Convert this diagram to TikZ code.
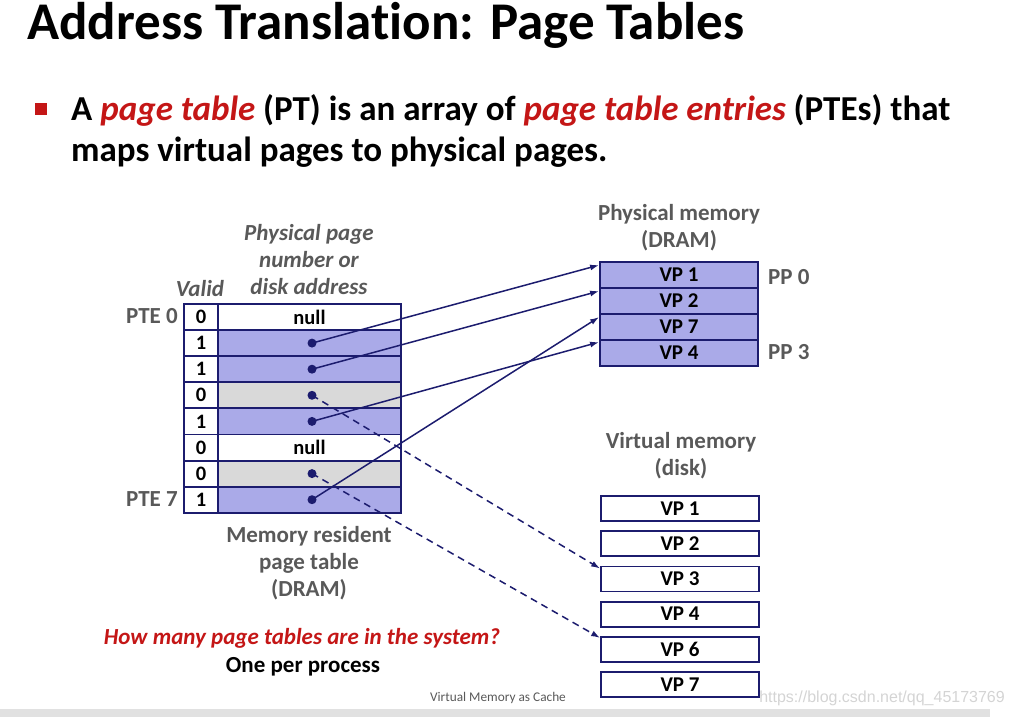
\documentclass[tikz,border=0pt]{standalone}
\usepackage{fontspec}
\setmainfont[Ligatures=NoCommon]{Carlito}
\newfontfamily\wmfont{Liberation Sans}
\usetikzlibrary{arrows.meta,positioning,calc}
\definecolor{ptnavy} {RGB}{ 28, 28,110}
\definecolor{ptblue} {RGB}{170,170,232}
\definecolor{ptgray} {RGB}{217,217,217}
\definecolor{ptlabel}{RGB}{ 89, 89, 89}
\definecolor{ptred}  {RGB}{196, 22, 22}
\definecolor{ptbar}  {RGB}{225,225,225}
\newcommand{\fs}[1]{\fontsize{#1}{#1}\selectfont}

\begin{document}
\begin{tikzpicture}[x=1pt,y=-1pt,
  cell/.style={draw=ptnavy, line width=1.8pt, inner sep=0pt,
               minimum height=26pt, font=\fs{20.5}\bfseries},
  lbl/.style={text=ptlabel, font=\fs{23}\bfseries, align=center, inner sep=0pt},
  ptr/.style={-{Latex[length=9pt,width=6pt]}, ptnavy, line width=1.5pt},
  ptrd/.style={ptr, dashed, dash pattern=on 7pt off 5pt}]
\useasboundingbox (0,0) rectangle (1013,717);

% slide header
\node[anchor=west, inner sep=0pt, font=\fs{53}\bfseries] (title) at (27,25)
  {Address Translation: Page Tables};
\node[fill=ptred, minimum size=12pt, inner sep=0pt] (bullet) at (41,109) {};
\node[anchor=west, inner sep=0pt, font=\fs{35}\bfseries] (line1) at (71,110)
  {A \textcolor{ptred}{\itshape page table} (PT) is an array of
   \textcolor{ptred}{\itshape page table entries} (PTEs) that};
\node[anchor=west, inner sep=0pt, font=\fs{35}\bfseries] (line2) at (71,152)
  {maps virtual pages to physical pages.};

% page table
\foreach \i/\v/\c/\t in {0/0/white/null, 1/1/ptblue/, 2/1/ptblue/, 3/0/ptgray/,
                         4/1/ptblue/, 5/0/white/null, 6/0/ptgray/, 7/1/ptblue/} {
  \node[cell, fill=\c, minimum width=183pt] (d\i) at (309.5,317+26.1*\i) {\t};
  \node[cell, fill=white, minimum width=34pt, anchor=center] (v\i) at (201,317+26.1*\i) {\v};
}
\foreach \i in {1,2,3,4,6,7}
  \node[circle, fill=ptnavy, minimum size=9pt, inner sep=0pt] (p\i) at (312,317+26.1*\i) {};

\node[lbl, font=\fs{23}\bfseries\itshape] (ppnhead) at (309,260)
  {Physical page\\[4pt]number or\\[4pt]disk address};
\node[lbl, font=\fs{23}\bfseries\itshape] (validhead) at (200,289) {Valid};
\node[lbl, anchor=east] (pte0) at (178,316) {PTE 0};
\node[lbl, anchor=east] (pte7) at (178,499) {PTE 7};
\node[lbl] (ptcap) at (309,563) {Memory resident\\[4pt]page table\\[4pt](DRAM)};

% physical memory
\node[lbl] (pmhead) at (679,228) {Physical memory\\[4pt](DRAM)};
\foreach \i/\t in {0/VP 1, 1/VP 2, 2/VP 7, 3/VP 4}
  \node[cell, fill=ptblue, minimum width=158pt, font=\fs{21}\bfseries] (m\i) at (679,275+26*\i) {\t};
\node[lbl, anchor=west] (pp0) at (768,277) {PP 0};
\node[lbl, anchor=west] (pp3) at (768,352) {PP 3};

% virtual memory on disk
\node[lbl] (vmhead) at (681,456) {Virtual memory\\[4pt](disk)};
\foreach \i/\t in {0/VP 1, 1/VP 2, 2/VP 3, 3/VP 4, 4/VP 6, 5/VP 7}
  \node[cell, fill=white, minimum width=158pt, minimum height=25pt,
        font=\fs{21}\bfseries] (k\i) at (680,508.5+35.2*\i) {\t};

% page table entries to memory
\draw[ptr] (p1.center) -- ([yshift=-4pt]m0.north west);
\draw[ptr] (p2.center) -- ([yshift=-4pt]m1.north west);
\draw[ptr] (p4.center) -- ([yshift=-3pt]m3.north west);
\draw[ptr] (p7.center) -- ([yshift=-4pt]m2.north west);
\draw[ptrd] (p3.center) -- ([yshift=-3pt]k2.north west);
\draw[ptrd] (p6.center) -- ([yshift=-2pt]k4.north west);

% footer
\node[text=ptred, font=\fs{23}\bfseries\itshape, inner sep=0pt] (question) at (302,638)
  {How many page tables are in the system?};
\node[font=\fs{23}\bfseries, inner sep=0pt] (answer) at (303,667) {One per process};
\node[text=ptlabel, font=\fs{13.3}, inner sep=0pt] (footer) at (498,698) {Virtual Memory as Cache};
\node[text=black!17, font=\wmfont\fs{16}, anchor=east, inner sep=0pt] (mark) at (1005,698)
  {https://blog.csdn.net/qq\_45173769};
\node[fill=ptbar, minimum width=990pt, minimum height=8pt, inner sep=0pt, anchor=north west]
  (bar) at (0,709) {};
\end{tikzpicture}
\end{document}
